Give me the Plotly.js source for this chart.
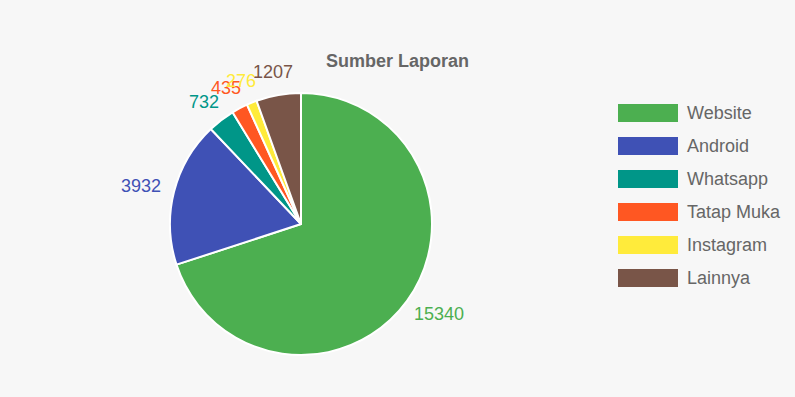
<!DOCTYPE html>
<html><head><meta charset="utf-8">
<script src="https://cdn.plot.ly/plotly-3.0.1.min.js"></script>
<style>html,body{margin:0;padding:0;background:#f7f7f7;}#chart{width:795px;height:397px;}</style>
</head><body><div id="chart"></div>
<script>
const categories = ["Website","Android","Whatsapp","Tatap Muka","Instagram","Lainnya"];
const values = [15340, 3932, 732, 435, 276, 1207];
const colors = ["#4CAF50","#3F51B5","#009688","#FF5722","#FFEB3B","#795548"];

const W = 795, H = 397;
const cx = 301, cy = 224, R = 131;
const FONT = "Liberation Sans, Arial, sans-serif";

const trace = {
  type: "pie",
  labels: categories,
  values: values,
  sort: false,
  direction: "clockwise",
  rotation: 0,
  marker: {colors: colors, line: {color: "#ffffff", width: 2}},
  textinfo: "none",
  hoverinfo: "label+value",
  showlegend: false,
  domain: {x: [(cx - R) / W, (cx + R) / W], y: [1 - (cy + R) / H, 1 - (cy - R) / H]}
};

const annotations = [];
const shapes = [];
const total = values.reduce((a, b) => a + b, 0);
let cum = 0;
const VFS = 18;
values.forEach((v, i) => {
  const mid = (cum + v / 2) / total * 2 * Math.PI;
  cum += v;
  const r = R + 14;
  const tw = String(v).length * 0.556 * VFS;
  const th = 18;
  const s = Math.sin(mid), c = Math.cos(mid);
  const px = cx + r * s + (tw / 2) * s;
  const py = cy - r * c - (th / 2) * c;
  annotations.push({
    xref: "paper", yref: "paper", x: px / W, y: 1 - py / H,
    text: String(v), showarrow: false, xanchor: "center", yanchor: "middle",
    font: {family: FONT, size: VFS, color: colors[i]}
  });
});

categories.forEach((c, i) => {
  const top = 104 + i * 33;
  shapes.push({
    type: "rect", xref: "paper", yref: "paper",
    x0: 618 / W, x1: 678 / W, y0: 1 - (top + 18) / H, y1: 1 - top / H,
    fillcolor: colors[i], line: {width: 0}
  });
  annotations.push({
    xref: "paper", yref: "paper", x: 685 / W, y: 1 - (top + 9) / H,
    text: c, showarrow: false, xanchor: "left", yanchor: "middle",
    font: {family: FONT, size: 18, color: "#666666"}
  });
});

const layout = {
  width: W, height: H,
  paper_bgcolor: "#f7f7f7", plot_bgcolor: "#f7f7f7",
  margin: {l: 0, r: 0, t: 0, b: 0},
  title: {text: "<b>Sumber Laporan</b>", x: 0.5, xanchor: "center", y: 1 - 61 / H, yanchor: "middle",
          font: {family: FONT, size: 18, color: "#666666"}},
  showlegend: false,
  annotations: annotations,
  shapes: shapes
};

Plotly.newPlot("chart", [trace], layout, {displayModeBar: false});
</script></body></html>
